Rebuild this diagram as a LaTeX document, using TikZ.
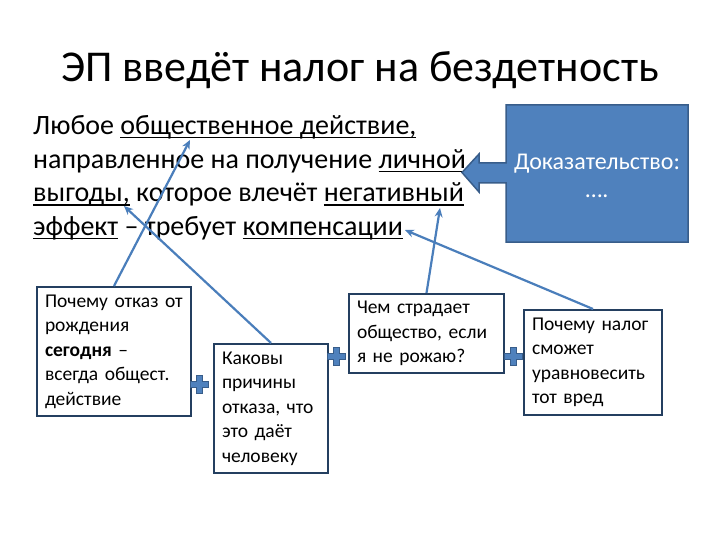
\documentclass[tikz,border=0pt]{standalone}
\usepackage{fontspec}
\setmainfont{Carlito}
\usetikzlibrary{arrows.meta}
\definecolor{accent}{HTML}{4F81BD}
\definecolor{accentdark}{HTML}{385D8A}
\definecolor{linkblue}{HTML}{4A7EBB}
\definecolor{boxline}{HTML}{243F60}
\newcommand\myul[1]{\setbox0\hbox{#1}\rlap{\rule[-3.5pt]{\wd0}{1.4pt}}\box0\relax}
\frenchspacing
\begin{document}
\begin{tikzpicture}[x=1pt,y=-1pt,
  bodyline/.style={anchor=base west,inner sep=0pt,font=\fontsize{28}{33}\selectfont},
  qbox/.style={draw=boxline,line width=2pt,fill=white,anchor=north west,
    inner xsep=8pt,inner ysep=0pt,align=left,
    font=\fontsize{19.5}{24.5}\selectfont},
  prooftext/.style={text=white,inner sep=0pt,font=\fontsize{24}{27}\selectfont,anchor=base},
  link/.style={draw=linkblue,line width=2.2pt,-{Stealth[length=9pt,width=8pt]}},
  plusmark/.style={minimum size=22pt,inner sep=0pt,
    path picture={\path[fill=accent,draw=accentdark,line width=0.8pt]
      ([shift={(-9pt,-3pt)}]path picture bounding box.center) -- ++(6pt,0pt) -- ++(0pt,-6pt) -- ++(6pt,0pt)
      -- ++(0pt,6pt) -- ++(6pt,0pt) -- ++(0pt,6pt) -- ++(-6pt,0pt) -- ++(0pt,6pt) -- ++(-6pt,0pt)
      -- ++(0pt,-6pt) -- ++(-6pt,0pt) -- cycle;}}
]
\useasboundingbox (0,0) rectangle (720,540);
\fill[white] (0,0) rectangle (720,540);

% title
\node[anchor=base,inner sep=0pt,font=\fontsize{44}{52}\selectfont] (title) at (360,82) {ЭП введёт налог на бездетность};

% body text
\node[bodyline] (l1) at (33,135) {Любое \myul{общественное действие,}};
\node[bodyline] (l2) at (33,168.5) {направленное на получение \myul{личной}};
\node[bodyline] (l3) at (33,202) {\myul{выгоды,} которое влечёт \myul{негативный}};
\node[bodyline] (l4) at (33,235.5) {\myul{эффект} – требует \myul{компенсации}};

% proof callout
\path[fill=accent,draw=accentdark,line width=1.5pt,line join=miter]
  (506,105) -- (688,105) -- (688,242) -- (506,242) -- (506,183) -- (479,183) -- (479,192)
  -- (462,172.5) -- (479,154) -- (479,163) -- (506,163) -- cycle;
\node[prooftext] (proof1) at (597,170) {Доказательство:};
\node[prooftext] (proof2) at (597,197) {….};

% question boxes
\node[qbox,text width=138pt,minimum height=129pt] (b1) at (36,286)
  {Почему отказ от\\рождения\\\textbf{сегодня} –\\всегда общест.\\действие};
\node[qbox,text width=98pt,minimum height=129pt] (b2) at (213,343)
  {Каковы\\причины\\отказа, что\\это даёт\\человеку};
\node[qbox,text width=139pt,minimum height=79pt] (b3) at (348,293)
  {Чем страдает\\общество, если\\я не рожаю?};
\node[qbox,text width=122pt,minimum height=105pt] (b4) at (523,309)
  {Почему налог\\сможет\\уравновесить\\тот вред};

% plus marks
\node[plusmark] (p1) at (199,384) {};
\node[plusmark] (p2) at (336,356) {};
\node[plusmark] (p3) at (513,356) {};

% target points
\coordinate (t1) at (190,140);
\coordinate (t2) at (124,206);
\coordinate (t3) at (440,208);
\coordinate (t4) at (405,230);

\draw[link] (b1.north) -- (t1);
\draw[link] (b2.north) -- (t2);
\draw[link] (b3.north) -- (t3);
\draw[link] (b4.north) -- (t4);
\end{tikzpicture}
\end{document}
